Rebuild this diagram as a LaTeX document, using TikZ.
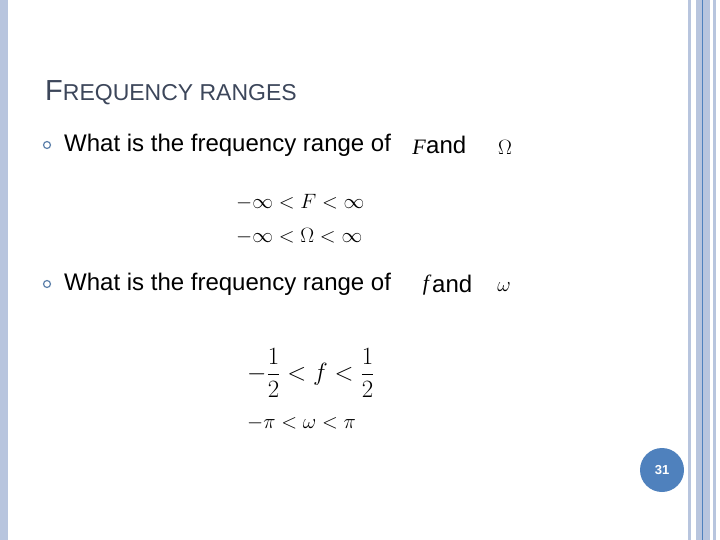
\documentclass[tikz,border=0pt]{standalone}
\usepackage{amsmath}
\usepackage{fontspec}
\setmainfont{Liberation Sans}
\newfontfamily\mathserif{Liberation Serif}
\usetikzlibrary{positioning}
\definecolor{stripe}{RGB}{184,197,222}
\definecolor{deepblue}{RGB}{79,129,189}
\definecolor{titlegray}{RGB}{60,70,90}
\tikzset{
  bullet/.style = {circle, draw=deepblue!70!gray, line width=1.2pt, minimum
      size=7pt, inner sep=0pt},
  item/.style = {anchor=west, font=\fontsize{24}{28}\selectfont, inner sep=0pt},
  eqn/.style = {anchor=west, font=\fontsize{21}{25}\selectfont, inner sep=0pt},
}
\begin{document}
\begin{tikzpicture}[x=1pt, y=-1pt]
  \useasboundingbox (0,0) rectangle (720,540);
  % frame stripes
  \fill[stripe] (0,0) rectangle (8,540);
  \fill[stripe] (688,0) rectangle (691,540);
  \fill[stripe] (696,0) rectangle (710,540);
  \draw[deepblue, line width=0.8pt] (702,0) -- (702,540);
  \fill[stripe] (713,0) rectangle (716,540);

  \node[anchor=base west, inner sep=0pt, text=titlegray] (title) at (45,101)
    {\fontsize{29}{32}\selectfont F\fontsize{23}{26}\selectfont REQUENCY RANGES};

  \node[bullet] (b1) at (47,145) {};
  \node[item] (q1) at (64,145) {What is the frequency range of};
  \node[item] (and1) at (426,145) {and};
  \node[anchor=center] (F1) at (419,147) {\fontsize{22}{26}\selectfont\mathserif\itshape F};
  \node[anchor=center] (Om1) at (505,147) {\fontsize{22}{26}\selectfont$\Omega$};
  \node[eqn] (e1) at (236,202) {$-\infty<F<\infty$};
  \node[eqn] (e2) at (236,236) {$-\infty<\Omega<\infty$};

  \node[bullet] (b2) at (47,284) {};
  \node[item] (q2) at (64,284) {What is the frequency range of};
  \node[item] (and2) at (432,284) {and};
  \node[anchor=center] (f2) at (426,285) {\fontsize{22}{26}\selectfont\mathserif\itshape f};
  \node[anchor=center] (om2) at (504,287) {\fontsize{20}{24}\selectfont$\omega$};
  \node[eqn, font=\fontsize{23}{27}\selectfont] (e3) at (247,373) {$-\dfrac{1}{2}<f<\dfrac{1}{2}$};
  \node[eqn] (e4) at (247,423) {$-\pi<\omega<\pi$};

  \node[circle, fill=deepblue, minimum size=44pt, inner sep=0pt, text=white,
    font=\bfseries\fontsize{13}{15}\selectfont] (page) at (662,470) {31};
\end{tikzpicture}
\end{document}
